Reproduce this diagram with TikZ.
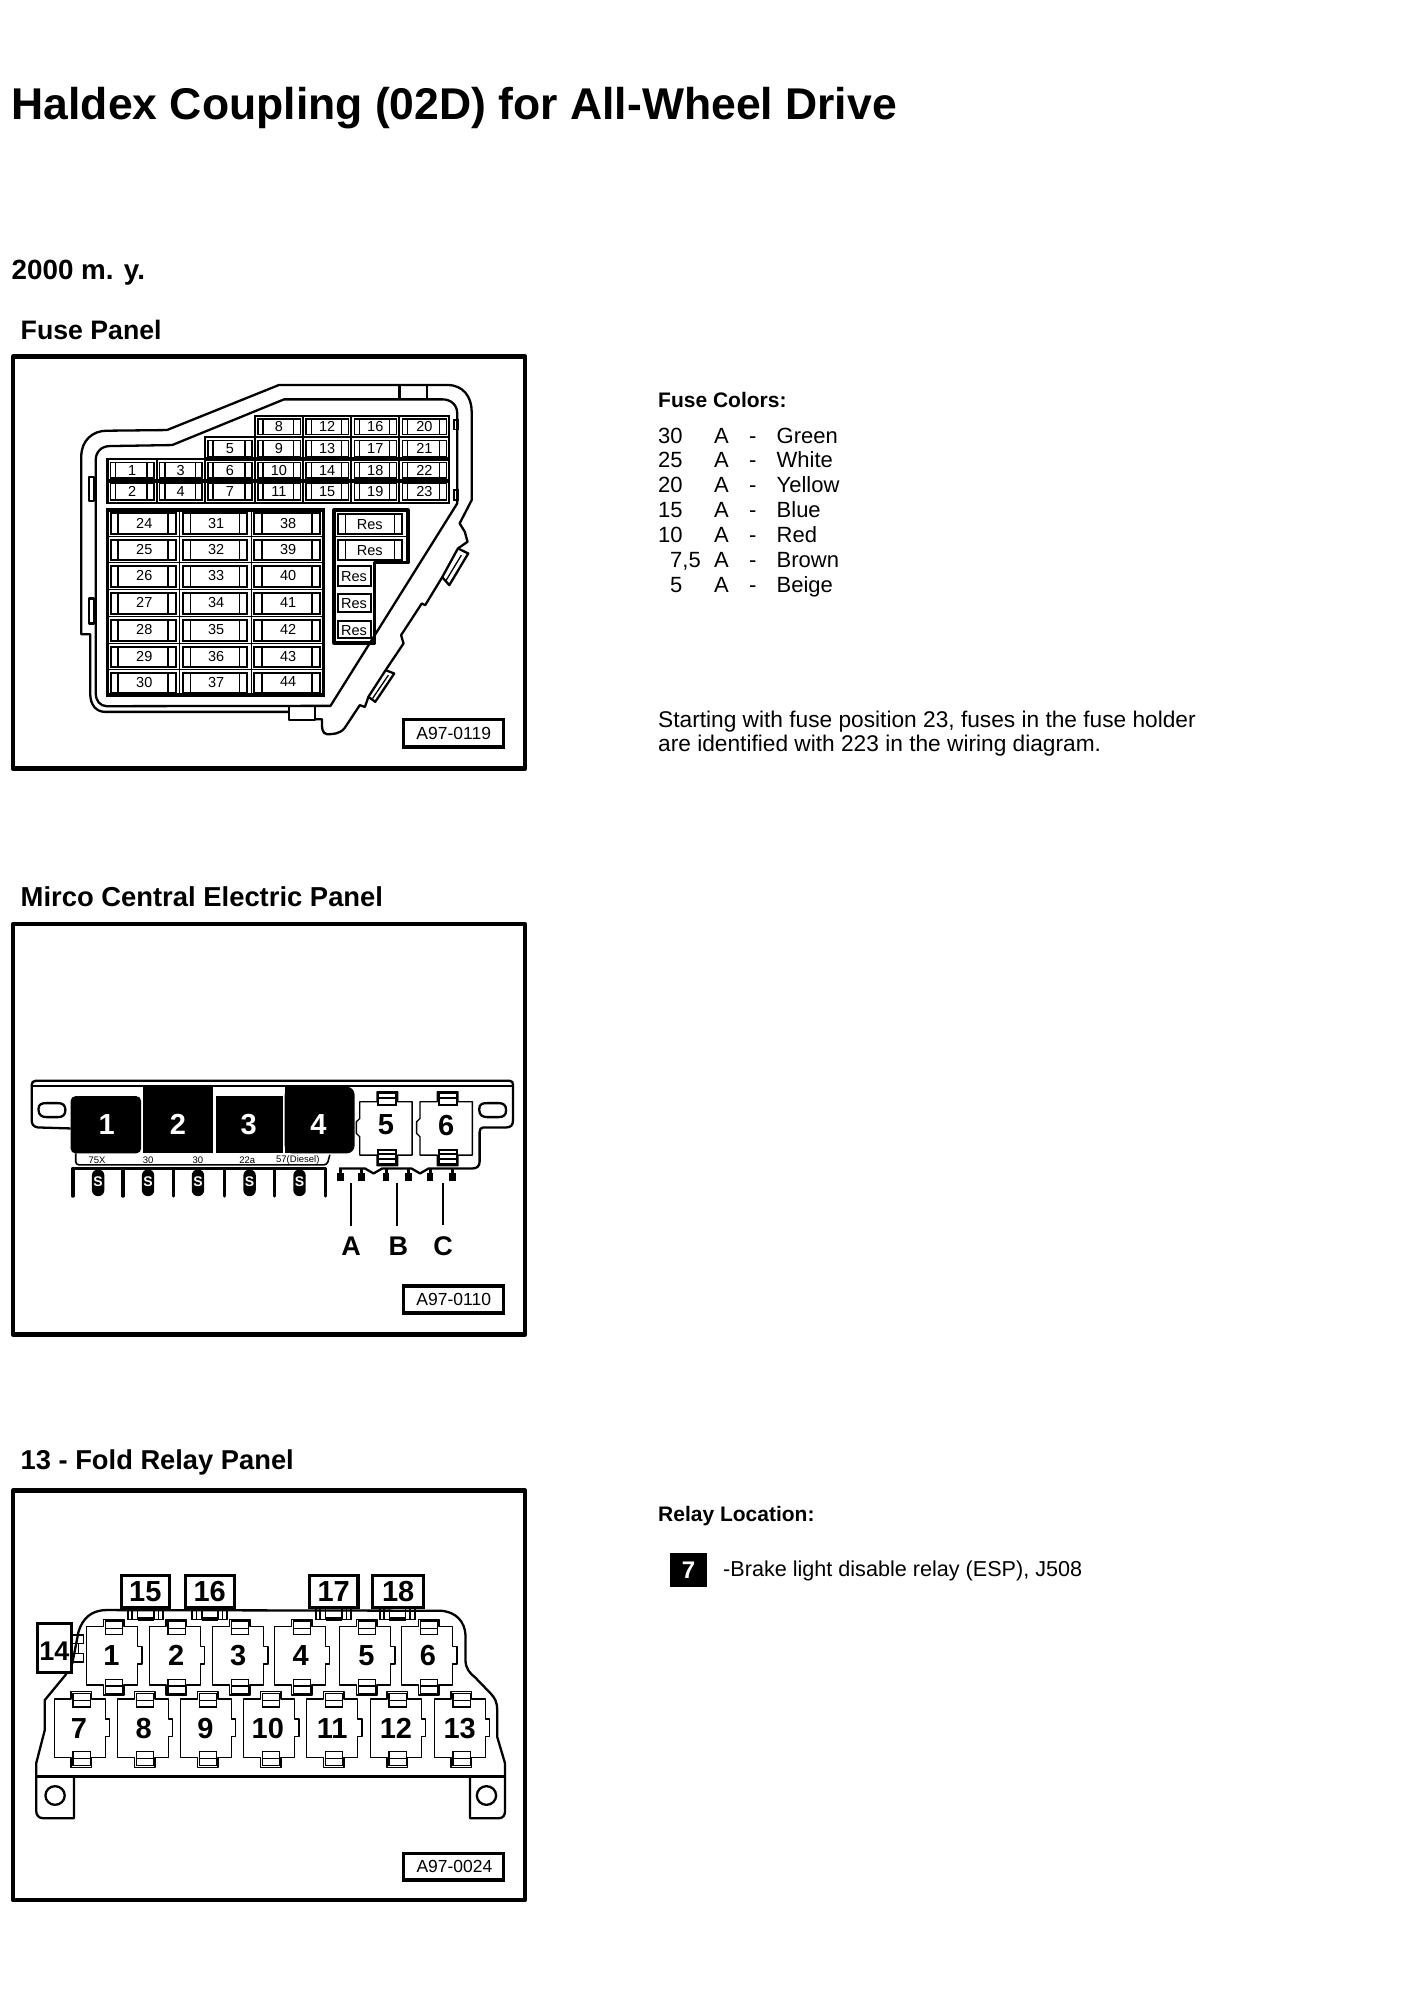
\documentclass[tikz,border=0pt]{standalone}
\usepackage{fontspec}
\setmainfont{Liberation Sans}
\newcommand{\fsz}[1]{\fontsize{#1}{#1}\selectfont}
\tikzset{
  txt/.style={anchor=base west,inner sep=0pt,font=\fsz{22}},
  head/.style={anchor=base west,inner sep=0pt,font=\fsz{26.7}\bfseries},
  sub/.style={anchor=base west,inner sep=0pt,font=\fsz{21}\bfseries},
  frame/.style={line width=4.5pt,draw=black,line join=round},
  tagbox/.style={line width=3.5pt,draw=black,fill=white},
  tagtxt/.style={inner sep=0pt,font=\fsz{17.5}},
  zA/.style={shift={(0,340)},x=0.3443pt,y=-0.3335pt},
  zB/.style={shift={(0,920)},x=0.3443pt,y=-0.3335pt},
  zC/.style={shift={(0,1490)},x=0.3443pt,y=-0.3335pt},
  outl/.style={line width=2.3pt,line join=round},
  thin1/.style={line width=1.3pt},
  fuselab/.style={inner sep=0pt,font=\fsz{14.5}},
  blk/.style={inner sep=0pt,text=white,font=\fsz{29}\bfseries},
  rlab/.style={inner sep=0pt,font=\fsz{29}\bfseries},
  rbox/.style={line width=1.3pt,fill=white,line join=round},
  pin/.style={line width=3.2pt,line cap=round},
  numbox/.style={line width=3.2pt,draw=black,fill=white},
  abc/.style={inner sep=0pt,font=\fsz{27}\bfseries},
  lead/.style={line width=1.8pt},
}
% upper fuse cell
\newcommand{\ufuse}[5]{%
  \draw[line width=2.2pt] (#1,#2) rectangle (#3,#4);
  \draw[thin1] (#1+9,#2+9) rectangle (#3-8,#4-8);
  \draw[thin1] (#1+24,#2+9) -- (#1+24,#4-8) (#3-28,#2+9) -- (#3-28,#4-8);
  \node[fuselab] (f#5) at ({(#1+#3)/2},{(#2+#4)/2}) {#5};
}
% lower fuse cell
\newcommand{\lfuse}[5]{%
  \draw[thin1] (#1,#2) rectangle (#3,#4);
  \draw[line width=2pt] (#1+9,#2+10) rectangle (#3-12,#4-8);
  \draw[thin1] (#1+31,#2+10) -- (#1+31,#4-8) (#3-34,#2+10) -- (#3-34,#4-8);
  \node[fuselab] (f#5) at ({(#1+#3)/2+2},{(#2+#4)/2-1}) {#5};
}
% relay with notch on the right (origin = body top left)
\newcommand{\relay}[4]{%
  \begin{scope}[shift={(#1,#2)}]
    \draw[rbox] (0,0) -- (48,0) -- (48,-22) -- (108,-22) -- (108,0) -- (148,0)
      -- (148,60) -- (160,60) -- (160,112) -- (148,112) -- (148,175)
      -- (108,175) -- (108,205) -- (48,205) -- (48,175) -- (0,175) -- cycle;
    \draw[thin1] (54,-17) rectangle (104,24) (54,5) -- (104,5);
    \draw[thin1] (54,158) rectangle (104,200) (54,178) -- (104,178);
    \node[rlab] (r#4) at (#3,87) {#4};
  \end{scope}
}
% relay with notch on the left (panel 2)
\newcommand{\relayB}[3]{%
  \begin{scope}[shift={(#1,#2)}]
    \draw[rbox] (0,0) -- (50,0) -- (50,-30) -- (110,-30) -- (110,0) -- (152,0)
      -- (152,160) -- (110,160) -- (110,192) -- (50,192) -- (50,160) -- (0,160)
      -- (0,105) -- (-10,95) -- (-10,60) -- (0,50) -- cycle;
    \draw[line width=2pt] (54,-26) rectangle (106,10) (54,-12) -- (106,-12);
    \draw[line width=2pt] (54,145) rectangle (106,188) (54,158) -- (106,158) (54,172) -- (106,172);
    \node[rlab] (m#3) at (76,70) {#3};
  \end{scope}
}
% numbered connector box
\newcommand{\numb}[3]{%
  \draw[line width=1.5pt] (#1+20,350) rectangle (#1+48,388) (#1+32,358) -- (#1+32,388)
     (#1+95,350) rectangle (#1+122,388) (#1+108,358) -- (#1+108,388);
  \draw[line width=4pt] (#1+48,388) -- (#1+95,388);
  \draw[numbox] (#1,257) rectangle (#2,352);
  \node[rlab] (b#3) at ({(#1+#2)/2},305) {#3};
}
\begin{document}
\begin{tikzpicture}[x=1pt,y=-1pt]
\fill[white] (0,0) rectangle (1408,2000);
\useasboundingbox (0,0) rectangle (1408,2000);

% headings
\node[anchor=base west,inner sep=0pt,font=\fsz{44.5}\bfseries] (title) at (11.5,119) {Haldex Coupling (02D) for All-Wheel Drive};
\node[anchor=base west,inner sep=0pt,font=\fsz{27.8}\bfseries] (year) at (11.5,279) {2000 m. y.};
\node[head] (hA) at (20.5,339.5) {Fuse Panel};
\node[head,font=\fsz{27.4}\bfseries] (hB) at (20.5,906.5) {Mirco Central Electric Panel};
\node[head,font=\fsz{27.3}\bfseries] (hC) at (20.5,1469.6) {13 - Fold Relay Panel};

% fuse colours
\node[sub] (fc) at (658,407) {Fuse Colors:};
\foreach \i/\num/\nx/\col in {0/30/658/Green,1/25/658/White,2/20/658/Yellow,3/15/658/Blue,4/10/658/Red,6/5/670/Beige}{
  \node[txt] (n\i) at (\nx,443+24.9*\i) {\num};
  \node[txt] (a\i) at (714,443+24.9*\i) {A};
  \node[txt] (d\i) at (749,443+24.9*\i) {-};
  \node[txt] (c\i) at (776.5,443+24.9*\i) {\col};
}
\node[txt] (n5) at (670,567.5) {7,5};
\node[txt] (a5) at (714,567.5) {A};
\node[txt] (d5) at (749,567.5) {-};
\node[txt] (c5) at (776.5,567.5) {Brown};
\node[txt,font=\fsz{22.7}] (s1) at (658,727) {Starting with fuse position 23, fuses in the fuse holder};
\node[txt,font=\fsz{22.7}] (s2) at (658,751) {are identified with 223 in the wiring diagram.};

% relay location
\node[sub] (rl) at (658,1521) {Relay Location:};
\fill[black] (670,1553) rectangle (707,1587);
\node[inner sep=0pt,text=white,font=\fsz{24}\bfseries] (seven) at (688.5,1570) {7};
\node[txt,font=\fsz{21.6}] (relaytxt) at (723,1576) {-Brake light disable relay (ESP), J508};

%%% PANEL A
\begin{scope}[zA]
\draw[frame] (38,50) rectangle (1525,1285);
% outer outline
\draw[outl] (485,270) -- (810,135) -- (1300,135) .. controls (1345,135) and (1370,170) .. (1370,215)
  -- (1370,480) -- (1335,550) -- (1350,575) -- (1358,605) -- (1330,625) -- (1285,710) -- (1235,795)
  -- (1225,790) -- (1165,885) -- (1172,910) -- (1120,990) -- (1070,1070) -- (1060,1100) -- (1045,1095)
  -- (1000,1165) .. controls (985,1182) and (965,1182) .. (950,1182) .. controls (935,1180) and (935,1165) .. (935,1137)
  -- (915,1137);
\draw[outl] (840,1115) -- (305,1115) .. controls (280,1115) and (262,1095) .. (262,1060) -- (262,882) -- (236,882) -- (236,350)
  .. controls (236,300) and (270,272) .. (310,272) -- (485,270);
% inner outline
\draw[outl] (500,315) -- (825,178) -- (1285,178) .. controls (1310,178) and (1328,195) .. (1328,220)
  -- (1328,490) -- (960,1097) -- (310,1098) .. controls (290,1098) and (278,1080) .. (278,1060)
  -- (278,360) .. controls (278,335) and (295,318) .. (320,318) -- (500,315);
% tabs
\draw[outl] (1160,135) -- (1160,178) (1240,135) -- (1240,178);
\draw[outl] (840,1098) rectangle (915,1140);
\draw[outl] (258,410) rectangle (272,482) (258,775) rectangle (272,850);
\draw[line width=1.6pt] (1318,240) rectangle (1330,268) (1318,450) rectangle (1330,480);
\draw[outl] (1330,625) -- (1360,640) -- (1305,735) -- (1285,712);
\draw[outl] (1120,990) -- (1145,1000) -- (1090,1085) -- (1070,1070);
\draw[line width=1.3pt] (1340,645) -- (1295,722) (1128,1005) -- (1082,1075);
% upper fuses
\ufuse{740}{228}{880}{292}{8}
\ufuse{880}{228}{1020}{292}{12}
\ufuse{1020}{228}{1160}{292}{16}
\ufuse{1160}{228}{1305}{292}{20}
\ufuse{595}{292}{740}{358}{5}
\ufuse{740}{292}{880}{358}{9}
\ufuse{880}{292}{1020}{358}{13}
\ufuse{1020}{292}{1160}{358}{17}
\ufuse{1160}{292}{1305}{358}{21}
\ufuse{312}{358}{455}{422}{1}
\ufuse{455}{358}{595}{422}{3}
\ufuse{595}{358}{740}{422}{6}
\ufuse{740}{358}{880}{422}{10}
\ufuse{880}{358}{1020}{422}{14}
\ufuse{1020}{358}{1160}{422}{18}
\ufuse{1160}{358}{1305}{422}{22}
\ufuse{312}{422}{455}{488}{2}
\ufuse{455}{422}{595}{488}{4}
\ufuse{595}{422}{740}{488}{7}
\ufuse{740}{422}{880}{488}{11}
\ufuse{880}{422}{1020}{488}{15}
\ufuse{1020}{422}{1160}{488}{19}
\ufuse{1160}{422}{1305}{488}{23}
\draw[line width=4.2pt] (595,358) -- (1305,358) (312,422) -- (1305,422);
% lower fuses
\foreach \i/\ya/\yb/\la/\lb/\lc in {0/510/590/24/31/38,1/590/668/25/32/39,2/668/748/26/33/40,3/748/830/27/34/41,4/830/910/28/35/42,5/910/988/29/36/43,6/988/1065/30/37/44}{
  \lfuse{312}{\ya}{522}{\yb}{\la}
  \lfuse{522}{\ya}{730}{\yb}{\lb}
  \lfuse{730}{\ya}{940}{\yb}{\lc}
}
\draw[line width=3.4pt] (312,510) rectangle (940,1065);
% Res
\draw[line width=3.4pt,line join=round] (970,510) -- (1185,510) -- (1185,668) -- (1088,668) -- (1088,908) -- (970,908) -- cycle;
\draw[line width=2pt] (982,522) rectangle (1168,582) (982,600) rectangle (1168,660);
\draw[thin1] (1003,522) -- (1003,582) (1145,522) -- (1145,582) (1003,600) -- (1003,660) (1145,600) -- (1145,660);
\draw[thin1] (970,590) -- (1185,590);
\draw[line width=2pt] (982,678) rectangle (1078,738) (982,762) rectangle (1078,815) (982,842) rectangle (1078,895);
\node[fuselab] (res1) at (1074,552) {Res};
\node[fuselab] (res2) at (1074,630) {Res};
\node[fuselab] (res3) at (1028,710) {Res};
\node[fuselab] (res4) at (1028,790) {Res};
\node[fuselab] (res5) at (1028,870) {Res};
% tag
\draw[tagbox] (1172,1138) rectangle (1463,1220);
\node[tagtxt] (tagA) at (1318,1180) {A97-0119};
\end{scope}

%%% PANEL B
\begin{scope}[zB]
\draw[frame] (38,12) rectangle (1525,1243);
% rail
\draw[outl] (205,625) -- (110,622) .. controls (97,620) and (92,612) .. (92,600) -- (92,495) .. controls (92,487) and (96,482) .. (104,482)
  -- (1480,482) .. controls (1488,482) and (1490,487) .. (1490,495) -- (1490,600) .. controls (1490,615) and (1484,622) .. (1470,622)
  -- (1403,622) .. controls (1396,622) and (1393,628) .. (1393,636) -- (1393,725) .. controls (1393,738) and (1385,745) .. (1372,745)
  -- (1245,745) -- (1220,760) -- (1195,745) -- (1110,745) -- (1085,760) -- (1060,745) -- (985,745);
\draw[thin1] (95,498) -- (1488,498);
\draw[outl,fill=white] (112,566) .. controls (112,552) and (122,549) .. (135,549) -- (168,549) .. controls (182,549) and (190,555) .. (190,570) .. controls (190,585) and (182,591) .. (168,591) -- (135,591) .. controls (122,591) and (112,585) .. (112,570) -- cycle;
\draw[outl,fill=white] (1392,566) .. controls (1392,552) and (1402,549) .. (1415,549) -- (1448,549) .. controls (1462,549) and (1470,555) .. (1470,570) .. controls (1470,585) and (1462,591) .. (1448,591) -- (1415,591) .. controls (1402,591) and (1392,585) .. (1392,570) -- cycle;
% black relays
\fill[black,rounded corners=5pt] (205,528) -- (410,528) -- (410,700) -- (205,700) -- cycle;
\fill[black] (414,500) rectangle (620,700);
\fill[black] (626,528) rectangle (822,700);
\fill[black,rounded corners=8pt] (827,500) -- (1030,500) -- (1030,700) -- (827,700) -- cycle;
\fill[black] (827,500) rectangle (900,700);
\node[blk] (k1) at (310,612) {1};
\node[blk] (k2) at (517,612) {2};
\node[blk] (k3) at (722,612) {3};
\node[blk] (k4) at (925,612) {4};
\relayB{1045}{545}{5}
\relayB{1220}{545}{6}
% strip
\draw[line width=1.6pt,rounded corners=3pt] (220,700) -- (220,734) -- (950,734) -- (958,704);
\foreach \nm/\xx/\tt in {s1/282/75X,s2/430/30,s3/575/30,s4/718/22a,s5/865/57(Diesel)}{
  \node[inner sep=0pt,font=\fsz{9.5}] (\nm) at (\xx,720) {\tt};
}
\draw[line width=3.4pt] (212,745) -- (948,745);
\foreach \xx in {212,357,503,652,798,945}{
  \draw[pin] (\xx,745) -- (\xx,828);
}
\foreach \xx/\nm in {285/p1,430/p2,575/p3,725/p4,870/p5}{
  \fill[black,rounded corners=6pt] (\xx-18,748) rectangle (\xx+18,828);
  \node[inner sep=0pt,text=white,font=\fsz{14}\bfseries] (\nm) at (\xx,786) {S};
}
% hooks
\foreach \xx in {990,1050,1122,1187,1250,1315}{
  \draw[line width=3pt] (\xx,745) -- (\xx,780);
  \fill[black] (\xx-11,760) rectangle (\xx+9,784);
}
% labels
\node[abc] (lA) at (1020,978) {A};
\node[abc] (lB) at (1157,978) {B};
\node[abc] (lC) at (1287,978) {C};
\coordinate (a0) at (1020,788);
\coordinate (b0) at (1153,788);
\coordinate (c0) at (1287,788);
\draw[lead,shorten >=11pt] (a0) -- (a0 |- lA.north);
\draw[lead,shorten >=11pt] (b0) -- (b0 |- lB.north);
\draw[lead,shorten >=11pt] (c0) -- (c0 |- lC.north);
% tag
\draw[tagbox] (1172,1097) rectangle (1463,1178);
\node[tagtxt] (tagB) at (1318,1137) {A97-0110};
\end{scope}

%%% PANEL C
\begin{scope}[zC]
\draw[frame] (38,2) rectangle (1525,1230);
% housing
\draw[outl] (105,858) -- (105,820) -- (130,720) -- (130,630) -- (190,555) -- (210,520) -- (228,425)
  .. controls (240,385) and (265,360) .. (310,360) -- (1280,362) .. controls (1325,365) and (1350,395) .. (1352,435)
  -- (1352,510) .. controls (1352,535) and (1365,550) .. (1380,562) -- (1425,610) .. controls (1438,625) and (1444,635) .. (1444,660)
  -- (1444,740) -- (1467,820) -- (1467,962) .. controls (1467,976) and (1460,984) .. (1450,984)
  -- (1365,984) -- (1365,858);
\draw[line width=3pt] (105,858) -- (1467,858);
\draw[outl] (105,858) -- (105,960) .. controls (105,975) and (112,984) .. (125,984) -- (215,984) -- (215,858);
\draw[outl] (160,916) circle[radius=28];
\draw[outl] (1413,916) circle[radius=28];
% side connector 14
\draw[line width=1.5pt] (205,435) rectangle (242,460) (205,490) rectangle (242,515) (228,460) -- (228,490);
\draw[numbox] (110,400) rectangle (208,548);
\node[inner sep=0pt,font=\fsz{27}\bfseries] (b14) at (158,482) {14};
\numb{352}{492}{15}
\numb{538}{680}{16}
\numb{898}{1040}{17}
\numb{1083}{1230}{18}
% relays, top row
\relay{252}{410}{72}{1}
\relay{434}{410}{78}{2}
\relay{618}{410}{74}{3}
\relay{798}{410}{75}{4}
\relay{987}{410}{77}{5}
\relay{1167}{410}{76}{6}
% relays, bottom row
\relay{158}{627}{71}{7}
\relay{342}{627}{75}{8}
\relay{525}{627}{72}{9}
\relay{708}{627}{70}{10}
\relay{891}{627}{74}{11}
\relay{1076}{627}{74}{12}
\relay{1262}{627}{73}{13}
% tag
\draw[tagbox] (1172,1090) rectangle (1463,1170);
\node[tagtxt] (tagC) at (1320,1130) {A97-0024};
\end{scope}
\end{tikzpicture}
\end{document}
